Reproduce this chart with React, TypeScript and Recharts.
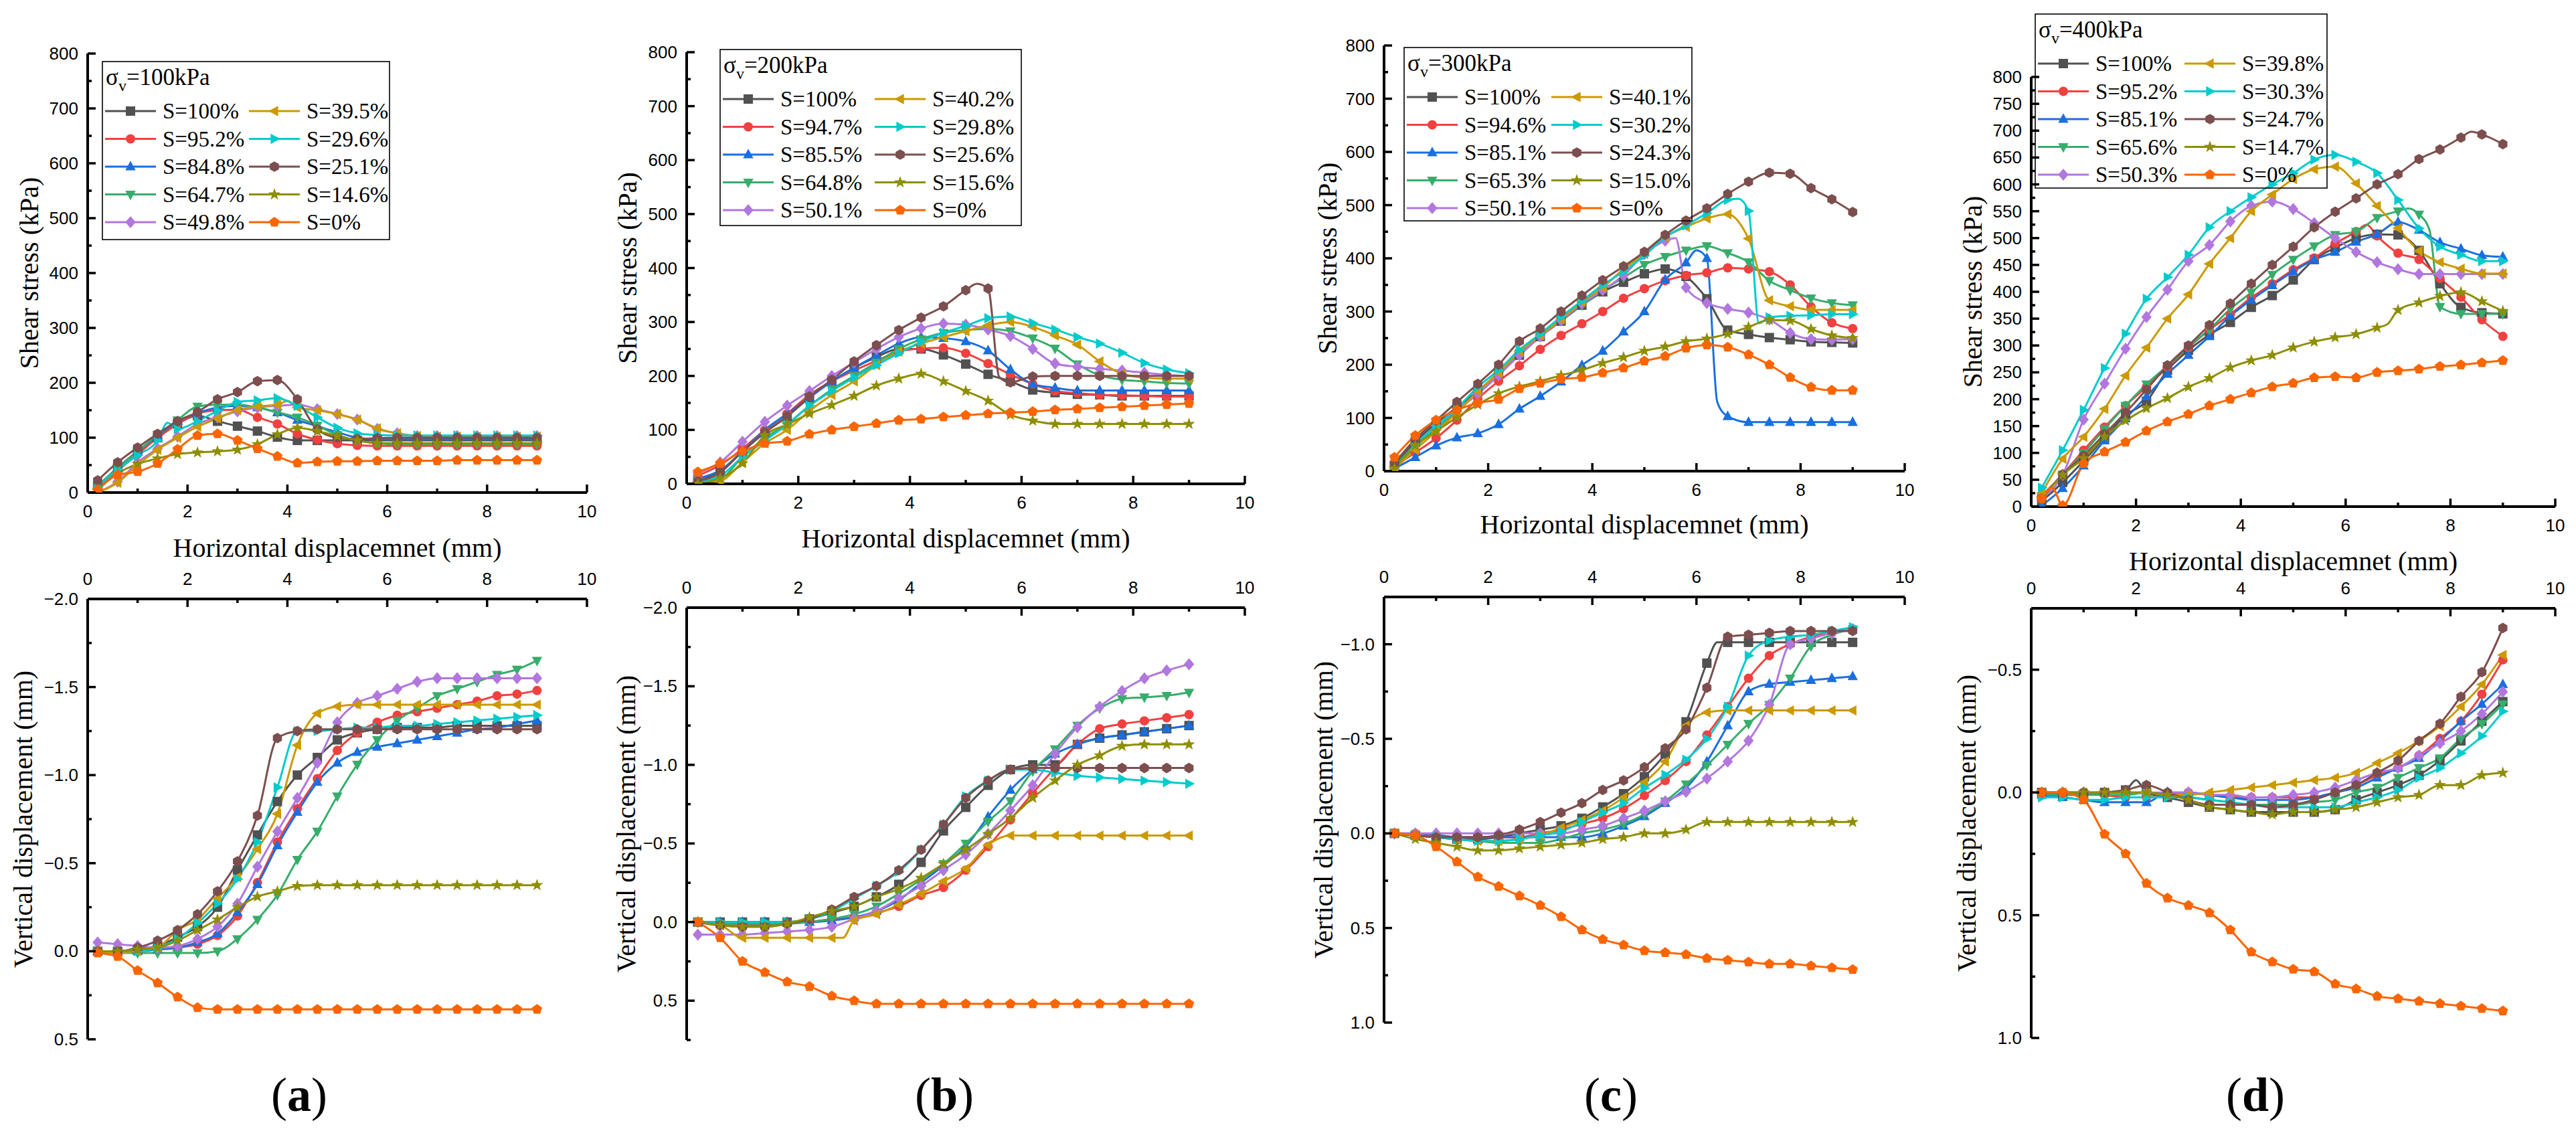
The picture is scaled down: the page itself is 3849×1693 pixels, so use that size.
import React from 'react';
import { LineChart, Line, XAxis, YAxis } from 'recharts';

const PAGE_W = 3849;
const PAGE_H = 1693;

// ---------- shared categories ----------
const X_POS = [0.2, 0.6, 1.0, 1.4, 1.8, 2.2, 2.6, 3.0, 3.4, 3.8, 4.2, 4.6, 5.0, 5.4, 5.8, 6.2, 6.6, 7.0, 7.4, 7.8, 8.2, 8.6, 9.0];
const X_TICKS = [0, 1, 2, 3, 4, 5, 6, 7, 8, 9, 10];
const X_MAJOR = [0, 2, 4, 6, 8, 10];

const SHEAR_TICKS = [0, 50, 100, 150, 200, 250, 300, 350, 400, 450, 500, 550, 600, 650, 700, 750, 800];
const SHEAR_MAJOR = [0, 100, 200, 300, 400, 500, 600, 700, 800];
const D_SHEAR_TICKS = [0, 25, 50, 75, 100, 125, 150, 175, 200, 225, 250, 275, 300, 325, 350, 375, 400, 425, 450, 475, 500, 525, 550, 575, 600, 625, 650, 675, 700, 725, 750, 775, 800];
const D_SHEAR_MAJOR = [0, 50, 100, 150, 200, 250, 300, 350, 400, 450, 500, 550, 600, 650, 700, 750, 800];

const A_VERT_TICKS = [-2, -1.75, -1.5, -1.25, -1, -0.75, -0.5, -0.25, 0, 0.25, 0.5];
const B_VERT_TICKS = [-2, -1.75, -1.5, -1.25, -1, -0.75, -0.5, -0.25, 0, 0.25, 0.5, 0.75];
const AB_VERT_MAJOR = [-2, -1.5, -1, -0.5, 0, 0.5];
const C_VERT_TICKS = [-1.25, -1, -0.75, -0.5, -0.25, 0, 0.25, 0.5, 0.75, 1];
const C_VERT_MAJOR = [-1, -0.5, 0, 0.5, 1];
const D_VERT_TICKS = [-0.75, -0.5, -0.25, 0, 0.25, 0.5, 0.75, 1];
const D_VERT_MAJOR = [-0.5, 0, 0.5, 1];

const COLORS = ['#515151', '#F14040', '#1A6FDF', '#37AD6B', '#B177DE', '#CC9900', '#00CBCC', '#7D4E4E', '#8E8E00', '#FB6501'];
const SHAPES = ['square', 'circle', 'triUp', 'triDown', 'diamond', 'triLeft', 'triRight', 'hexagon', 'star', 'pentagon'];

// ---------- legend labels ----------
const A_LABELS = ['S=100%', 'S=95.2%', 'S=84.8%', 'S=64.7%', 'S=49.8%', 'S=39.5%', 'S=29.6%', 'S=25.1%', 'S=14.6%', 'S=0%'];
const B_LABELS = ['S=100%', 'S=94.7%', 'S=85.5%', 'S=64.8%', 'S=50.1%', 'S=40.2%', 'S=29.8%', 'S=25.6%', 'S=15.6%', 'S=0%'];
const C_LABELS = ['S=100%', 'S=94.6%', 'S=85.1%', 'S=65.3%', 'S=50.1%', 'S=40.1%', 'S=30.2%', 'S=24.3%', 'S=15.0%', 'S=0%'];
const D_LABELS = ['S=100%', 'S=95.2%', 'S=85.1%', 'S=65.6%', 'S=50.3%', 'S=39.8%', 'S=30.3%', 'S=24.7%', 'S=14.7%', 'S=0%'];

// ---------- (a) sigma_v = 100 kPa ----------
const A_SHEAR = [
  [10, 45, 75, 100, 125, 140, 130, 121, 112, 101, 95, 95, 95, 95, 95, 95, 95, 95, 95, 95, 95, 95, 95],
  [8, 40, 70, 100, 125, 144, 150, 151, 137, 125, 107, 96, 89, 86, 85, 85, 85, 85, 85, 85, 85, 85, 85],
  [12, 45, 75, 103, 130, 145, 155, 158, 155, 146, 132, 121, 110, 100, 97, 97, 97, 97, 97, 97, 97, 97, 97],
  [12, 45, 75, 105, 132, 157, 160, 160, 155, 146, 137, 122, 105, 95, 90, 88, 88, 88, 88, 88, 88, 88, 88],
  [0, 20, 55, 80, 102, 125, 137, 148, 155, 158, 160, 152, 143, 133, 116, 108, 103, 103, 103, 103, 103, 103, 103],
  [0, 18, 50, 78, 100, 120, 135, 150, 157, 160, 155, 150, 143, 133, 117, 108, 103, 102, 102, 102, 102, 102, 102],
  [10, 42, 68, 95, 116, 130, 149, 165, 168, 172, 158, 137, 118, 108, 105, 104, 104, 104, 104, 104, 104, 104, 104],
  [22, 55, 82, 107, 130, 147, 170, 183, 203, 205, 170, 115, 100, 98, 99, 100, 100, 100, 100, 100, 100, 100, 100],
  [5, 35, 52, 62, 70, 73, 75, 78, 88, 106, 118, 112, 103, 95, 90, 90, 90, 90, 90, 90, 90, 90, 90],
  [5, 32, 38, 53, 79, 104, 107, 95, 80, 66, 54, 56, 57, 57, 58, 58, 58, 58, 59, 59, 59, 59, 59],
];
const A_SHEAR_EXTRA = [[5, 4.0, 167], [6, 1.6, 127]];

const A_VERT = [
  [0, 0, -0.01, -0.03, -0.08, -0.14, -0.25, -0.46, -0.66, -0.85, -1.0, -1.1, -1.2, -1.24, -1.26, -1.27, -1.27, -1.27, -1.28, -1.28, -1.28, -1.28, -1.28],
  [0, 0, 0, -0.01, -0.02, -0.04, -0.09, -0.2, -0.39, -0.62, -0.81, -0.98, -1.14, -1.24, -1.3, -1.34, -1.36, -1.38, -1.4, -1.42, -1.45, -1.46, -1.48],
  [0, 0, 0, -0.01, -0.02, -0.05, -0.1, -0.22, -0.38, -0.6, -0.79, -0.96, -1.07, -1.13, -1.16, -1.18, -1.2, -1.22, -1.24, -1.26, -1.27, -1.29, -1.31],
  [0, 0.01, 0.01, 0.01, 0.01, 0.01, 0, -0.07, -0.18, -0.32, -0.52, -0.68, -0.88, -1.06, -1.2, -1.31, -1.38, -1.45, -1.49, -1.53, -1.57, -1.6, -1.65],
  [-0.05, -0.04, -0.03, -0.02, -0.03, -0.07, -0.14, -0.27, -0.48, -0.68, -0.87, -1.07, -1.3, -1.41, -1.45, -1.49, -1.53, -1.55, -1.55, -1.55, -1.55, -1.55, -1.55],
  [0, 0.01, 0, -0.02, -0.12, -0.18, -0.3, -0.42, -0.58, -0.78, -1.17, -1.35, -1.39, -1.4, -1.4, -1.4, -1.4, -1.4, -1.4, -1.4, -1.4, -1.4, -1.4],
  [0, 0, 0, -0.02, -0.07, -0.16, -0.27, -0.41, -0.62, -0.93, -1.25, -1.25, -1.26, -1.27, -1.27, -1.28, -1.28, -1.29, -1.3, -1.31, -1.32, -1.33, -1.34],
  [0, 0, -0.02, -0.06, -0.12, -0.21, -0.34, -0.51, -0.77, -1.21, -1.25, -1.26, -1.26, -1.26, -1.26, -1.26, -1.26, -1.26, -1.26, -1.26, -1.26, -1.26, -1.26],
  [0, 0, -0.01, -0.02, -0.06, -0.12, -0.18, -0.25, -0.31, -0.34, -0.37, -0.375, -0.375, -0.375, -0.375, -0.375, -0.375, -0.375, -0.375, -0.375, -0.375, -0.375, -0.375],
  [0.01, 0.03, 0.11, 0.18, 0.26, 0.32, 0.33, 0.33, 0.33, 0.33, 0.33, 0.33, 0.33, 0.33, 0.33, 0.33, 0.33, 0.33, 0.33, 0.33, 0.33, 0.33, 0.33],
];
const A_VERT_EXTRA: number[][] = [];

// ---------- (b) sigma_v = 200 kPa ----------
const B_SHEAR = [
  [5, 24, 60, 95, 125, 160, 190, 215, 235, 250, 250, 239, 222, 203, 190, 174, 169, 166, 165, 163, 163, 163, 163],
  [15, 35, 65, 100, 130, 165, 190, 210, 228, 245, 251, 252, 242, 223, 203, 185, 172, 168, 165, 164, 163, 162, 162],
  [10, 25, 60, 100, 130, 160, 190, 215, 238, 260, 272, 270, 264, 247, 212, 185, 178, 173, 173, 173, 173, 173, 173],
  [5, 10, 50, 85, 110, 145, 175, 200, 225, 250, 268, 280, 285, 287, 283, 270, 251, 222, 201, 193, 190, 187, 186],
  [20, 40, 78, 115, 145, 172, 200, 225, 250, 272, 288, 297, 295, 286, 274, 250, 223, 217, 213, 210, 206, 202, 200],
  [0, 5, 40, 75, 100, 135, 165, 190, 220, 245, 260, 272, 283, 294, 300, 291, 275, 258, 227, 204, 197, 195, 195],
  [5, 15, 50, 80, 110, 145, 172, 197, 220, 242, 263, 280, 293, 307, 310, 298, 286, 272, 260, 243, 224, 212, 205],
  [5, 21, 60, 95, 125, 162, 193, 227, 257, 285, 308, 329, 359, 362, 188, 199, 200, 200, 200, 200, 200, 200, 200],
  [0, 10, 38, 90, 110, 130, 146, 163, 182, 195, 204, 190, 172, 154, 128, 117, 111, 111, 111, 111, 111, 111, 111],
  [22, 38, 60, 75, 79, 92, 100, 106, 112, 118, 120, 124, 127, 130, 132, 134, 137, 139, 141, 143, 145, 147, 149],
];
const B_SHEAR_EXTRA = [[7, 5.2, 371], [7, 5.6, 198]];

const B_VERT = [
  [0, 0, 0, 0, 0, -0.02, -0.06, -0.1, -0.16, -0.24, -0.38, -0.58, -0.73, -0.87, -0.97, -1.0, -1.0, -1.13, -1.17, -1.19, -1.21, -1.23, -1.25],
  [0, 0.02, 0.02, 0.02, 0.01, 0, -0.02, -0.03, -0.06, -0.1, -0.17, -0.22, -0.33, -0.48, -0.65, -0.82, -0.98, -1.13, -1.23, -1.26, -1.28, -1.3, -1.32],
  [0, 0, 0, 0, 0, 0, -0.01, -0.03, -0.07, -0.14, -0.25, -0.36, -0.48, -0.67, -0.84, -0.97, -1.07, -1.13, -1.17, -1.19, -1.21, -1.23, -1.25],
  [0, 0.01, 0.01, 0.01, 0.01, 0, -0.02, -0.05, -0.1, -0.18, -0.27, -0.37, -0.5, -0.64, -0.77, -0.96, -1.1, -1.25, -1.36, -1.42, -1.43, -1.44, -1.46],
  [0.08, 0.08, 0.08, 0.07, 0.06, 0.05, 0.03, -0.02, -0.07, -0.15, -0.23, -0.33, -0.43, -0.56, -0.71, -0.87, -1.07, -1.24, -1.37, -1.47, -1.55, -1.6, -1.64],
  [0, 0.02, 0.1, 0.1, 0.1, 0.1, 0.1, -0.01, -0.05, -0.11, -0.18, -0.26, -0.34, -0.49, -0.55, -0.55, -0.55, -0.55, -0.55, -0.55, -0.55, -0.55, -0.55],
  [0, 0, 0, 0, 0, -0.02, -0.07, -0.15, -0.23, -0.32, -0.46, -0.62, -0.8, -0.9, -0.97, -0.97, -0.95, -0.93, -0.92, -0.91, -0.9, -0.89, -0.88],
  [0, 0.02, 0.03, 0.03, 0.01, -0.02, -0.08, -0.16, -0.23, -0.33, -0.46, -0.62, -0.79, -0.9, -0.97, -0.98, -0.98, -0.98, -0.98, -0.98, -0.98, -0.98, -0.98],
  [0, 0.02, 0.03, 0.03, 0.01, -0.03, -0.07, -0.1, -0.16, -0.21, -0.28, -0.37, -0.46, -0.56, -0.66, -0.79, -0.9, -1.0, -1.06, -1.12, -1.13, -1.13, -1.13],
  [0, 0.1, 0.25, 0.32, 0.38, 0.41, 0.47, 0.5, 0.52, 0.52, 0.52, 0.52, 0.52, 0.52, 0.52, 0.52, 0.52, 0.52, 0.52, 0.52, 0.52, 0.52, 0.52],
];
const B_VERT_EXTRA = [[5, 2.8, 0.1]];

// ---------- (c) sigma_v = 300 kPa ----------
const C_SHEAR = [
  [10, 55, 90, 120, 150, 185, 218, 253, 282, 312, 337, 355, 371, 380, 366, 324, 265, 257, 251, 247, 243, 242, 241],
  [10, 35, 62, 96, 136, 169, 198, 229, 255, 277, 300, 325, 343, 358, 368, 373, 382, 380, 375, 350, 309, 279, 268],
  [5, 26, 48, 63, 71, 88, 117, 141, 168, 199, 226, 262, 300, 360, 392, 400, 103, 92, 92, 92, 92, 92, 92],
  [2, 45, 80, 112, 150, 183, 222, 255, 285, 312, 340, 364, 388, 403, 415, 423, 410, 393, 358, 340, 325, 316, 312],
  [5, 50, 85, 115, 145, 180, 218, 253, 283, 315, 340, 368, 408, 433, 345, 316, 305, 298, 285, 260, 248, 247, 248],
  [5, 40, 75, 110, 150, 185, 225, 255, 285, 318, 345, 380, 408, 440, 459, 475, 483, 437, 321, 310, 303, 303, 303],
  [8, 50, 85, 118, 158, 190, 228, 258, 290, 320, 350, 375, 405, 440, 462, 485, 510, 489, 289, 292, 293, 295, 295],
  [15, 60, 95, 130, 164, 200, 244, 268, 300, 330, 359, 385, 412, 444, 471, 494, 521, 544, 561, 559, 532, 511, 487],
  [5, 48, 75, 101, 125, 146, 159, 169, 180, 190, 203, 214, 226, 234, 244, 249, 258, 271, 284, 283, 267, 255, 250],
  [26, 67, 96, 115, 128, 135, 155, 165, 173, 176, 185, 194, 207, 216, 231, 237, 233, 219, 200, 176, 158, 152, 152],
];
const C_SHEAR_EXTRA = [[2, 6.0, 415], [2, 6.4, 130], [4, 5.6, 438], [6, 6.8, 512], [6, 7.2, 278]];

const C_VERT = [
  [0, 0.01, 0.02, 0.03, 0.03, 0.02, 0, -0.02, -0.04, -0.08, -0.14, -0.21, -0.3, -0.42, -0.59, -0.9, -1.01, -1.01, -1.01, -1.01, -1.01, -1.01, -1.01],
  [0, 0, 0.01, 0.02, 0.02, 0.02, 0.02, 0, -0.02, -0.05, -0.08, -0.13, -0.2, -0.28, -0.38, -0.52, -0.67, -0.82, -0.94, -1.0, -1.04, -1.06, -1.08],
  [0, 0.01, 0.01, 0.02, 0.02, 0.02, 0.02, 0.02, 0.02, 0.02, 0, -0.04, -0.09, -0.16, -0.24, -0.38, -0.57, -0.75, -0.79, -0.8, -0.81, -0.82, -0.83],
  [0, 0.01, 0.02, 0.03, 0.04, 0.05, 0.05, 0.05, 0.03, 0, -0.02, -0.05, -0.1, -0.17, -0.26, -0.36, -0.47, -0.58, -0.68, -0.82, -0.99, -1.05, -1.08],
  [0, 0, 0, 0, 0, 0, 0, 0, 0, -0.02, -0.04, -0.08, -0.12, -0.17, -0.22, -0.29, -0.38, -0.49, -0.68, -1.0, -1.03, -1.06, -1.08],
  [0, 0.01, 0.02, 0.03, 0.04, 0.04, 0.03, 0.01, -0.03, -0.07, -0.12, -0.19, -0.27, -0.38, -0.57, -0.64, -0.65, -0.65, -0.65, -0.65, -0.65, -0.65, -0.65],
  [0, 0.01, 0.02, 0.03, 0.04, 0.04, 0.03, 0.01, -0.01, -0.06, -0.11, -0.16, -0.24, -0.31, -0.39, -0.5, -0.67, -0.94, -1.02, -1.04, -1.05, -1.07, -1.09],
  [0, 0.01, 0.02, 0.02, 0.02, 0.01, -0.02, -0.06, -0.11, -0.16, -0.23, -0.28, -0.35, -0.45, -0.55, -0.77, -1.04, -1.05, -1.06, -1.07, -1.07, -1.07, -1.07],
  [0, 0.03, 0.05, 0.07, 0.09, 0.09, 0.08, 0.07, 0.06, 0.05, 0.03, 0.02, 0, 0, -0.02, -0.06, -0.06, -0.06, -0.06, -0.06, -0.06, -0.06, -0.06],
  [0, 0.01, 0.07, 0.15, 0.23, 0.28, 0.33, 0.38, 0.44, 0.51, 0.56, 0.59, 0.62, 0.63, 0.64, 0.66, 0.67, 0.68, 0.69, 0.69, 0.7, 0.71, 0.72],
];
const C_VERT_EXTRA = [[0, 6.4, -1.01]];

// ---------- (d) sigma_v = 400 kPa ----------
const D_SHEAR = [
  [10, 45, 85, 128, 170, 196, 254, 291, 320, 343, 371, 393, 422, 460, 482, 500, 507, 506, 477, 415, 371, 361, 359],
  [20, 60, 105, 148, 188, 223, 259, 296, 329, 358, 389, 415, 441, 463, 490, 512, 504, 472, 460, 425, 390, 348, 317],
  [2, 34, 76, 123, 164, 205, 247, 282, 317, 355, 385, 412, 438, 460, 474, 493, 507, 530, 515, 492, 480, 468, 465],
  [15, 60, 100, 145, 188, 228, 262, 298, 330, 368, 399, 432, 460, 485, 506, 512, 538, 550, 544, 372, 359, 359, 359],
  [15, 59, 162, 229, 294, 353, 404, 457, 487, 531, 560, 568, 554, 528, 500, 474, 455, 442, 433, 433, 433, 433, 433],
  [25, 89, 130, 182, 244, 296, 350, 395, 452, 500, 550, 581, 610, 628, 633, 602, 560, 518, 476, 455, 443, 434, 434],
  [35, 105, 180, 258, 322, 387, 427, 469, 520, 550, 576, 600, 621, 646, 655, 642, 621, 571, 518, 484, 469, 457, 457],
  [15, 60, 95, 135, 175, 218, 263, 300, 338, 378, 415, 450, 484, 520, 549, 574, 600, 619, 647, 665, 687, 693, 675],
  [15, 59, 90, 130, 160, 183, 202, 223, 239, 259, 272, 282, 296, 307, 315, 321, 333, 366, 380, 392, 399, 382, 364],
  [15, 2, 80, 102, 120, 141, 158, 172, 188, 200, 212, 223, 230, 240, 242, 240, 250, 253, 256, 261, 264, 268, 272],
];
const D_SHEAR_EXTRA = [[1, 6.4, 525], [3, 7.2, 555], [3, 7.6, 515], [7, 8.4, 698], [8, 6.8, 340], [9, 0.4, 35]];

const D_VERT = [
  [0, 0.01, 0.01, 0, -0.01, 0, 0.02, 0.04, 0.06, 0.07, 0.08, 0.08, 0.08, 0.08, 0.07, 0.03, 0, -0.03, -0.07, -0.13, -0.21, -0.29, -0.37],
  [0, 0, 0, 0.01, 0.02, 0.02, 0.01, 0, 0.01, 0.02, 0.02, 0.02, 0.02, 0.02, 0, -0.03, -0.07, -0.1, -0.15, -0.22, -0.29, -0.4, -0.54],
  [0.01, 0.02, 0.03, 0.04, 0.04, 0.04, 0, 0, 0.01, 0.02, 0.03, 0.03, 0.03, 0.02, 0, -0.02, -0.06, -0.1, -0.14, -0.21, -0.29, -0.36, -0.44],
  [0.01, 0.01, 0.01, 0.01, 0.01, 0, 0.01, 0.02, 0.03, 0.04, 0.05, 0.05, 0.05, 0.04, 0.03, 0, -0.02, -0.06, -0.1, -0.14, -0.22, -0.28, -0.36],
  [0, 0, 0, 0, 0, 0, 0, 0, 0.01, 0.01, 0.02, 0.02, 0.01, 0, -0.02, -0.05, -0.08, -0.1, -0.15, -0.2, -0.25, -0.32, -0.41],
  [0, 0, 0, 0, 0, 0, 0.01, 0.01, 0, -0.01, -0.02, -0.03, -0.04, -0.05, -0.06, -0.08, -0.12, -0.16, -0.21, -0.27, -0.35, -0.44, -0.56],
  [0.02, 0.02, 0.03, 0.03, 0.02, 0.02, 0.02, 0.02, 0.03, 0.04, 0.05, 0.06, 0.06, 0.06, 0.06, 0.04, 0.02, -0.01, -0.06, -0.1, -0.16, -0.23, -0.33],
  [0, 0, 0, 0, -0.01, -0.03, 0, 0.03, 0.05, 0.05, 0.05, 0.06, 0.05, 0.03, 0, -0.03, -0.08, -0.13, -0.21, -0.28, -0.39, -0.49, -0.67],
  [0, 0, 0, 0, 0, 0, 0.01, 0.03, 0.06, 0.07, 0.08, 0.09, 0.08, 0.08, 0.07, 0.06, 0.04, 0.02, 0.01, -0.03, -0.03, -0.07, -0.08],
  [0, 0, 0.03, 0.17, 0.25, 0.37, 0.43, 0.46, 0.49, 0.56, 0.65, 0.69, 0.72, 0.73, 0.78, 0.8, 0.83, 0.84, 0.85, 0.86, 0.87, 0.88, 0.89],
];
const D_VERT_EXTRA = [[0, 2.0, -0.05]];

// ---------- helpers ----------
const SANS = "'Liberation Sans', Arial, sans-serif";
const SERIF = "'Liberation Serif', 'Times New Roman', serif";

type Pt = { x: number; y: number; m: number };

function buildSeries(values: number[][], extras: number[][]): Pt[][] {
  return values.map((vals, si) => {
    const pts: Pt[] = X_POS.map((x, i) => ({ x, y: vals[i], m: 1 }));
    extras.filter((e) => e[0] === si).forEach((e) => pts.push({ x: e[1], y: e[2], m: 0 }));
    pts.sort((a, b) => a.x - b.x);
    return pts;
  });
}

const isIn = (v: number, list: number[]) => list.some((m) => Math.abs(m - v) < 1e-6);

function polyPoints(cx: number, cy: number, rel: number[][], s: number) {
  return rel.map((p) => `${cx + p[0] * s},${cy + p[1] * s}`).join(' ');
}
function regular(n: number, r: number) {
  const out: number[][] = [];
  for (let k = 0; k < n; k++) {
    const a = -Math.PI / 2 + (2 * Math.PI * k) / n;
    out.push([Math.cos(a) * r, Math.sin(a) * r]);
  }
  return out;
}
function starRel() {
  const out: number[][] = [];
  for (let k = 0; k < 10; k++) {
    const a = -Math.PI / 2 + (Math.PI * k) / 5;
    const r = k % 2 === 0 ? 1.35 : 0.55;
    out.push([Math.cos(a) * r, Math.sin(a) * r]);
  }
  return out;
}
const REL: Record<string, number[][]> = {
  triUp: [[0, -1.25], [1.1, 0.8], [-1.1, 0.8]],
  triDown: [[0, 1.25], [1.1, -0.8], [-1.1, -0.8]],
  triLeft: [[-1.25, 0], [0.8, -1.1], [0.8, 1.1]],
  triRight: [[1.25, 0], [-0.8, -1.1], [-0.8, 1.1]],
  diamond: [[0, -1.3], [1.1, 0], [0, 1.3], [-1.1, 0]],
  hexagon: regular(6, 1.12),
  pentagon: regular(5, 1.15),
  star: starRel(),
};

function Marker({ shape, x, y, color, s = 7 }: { shape: string; x: number; y: number; color: string; s?: number }) {
  if (shape === 'square') return <rect x={x - s} y={y - s} width={2 * s} height={2 * s} fill={color} />;
  if (shape === 'circle') return <circle cx={x} cy={y} r={s} fill={color} />;
  return <polygon points={polyPoints(x, y, REL[shape], s)} fill={color} />;
}

const makeDot = (shape: string, color: string) => (props: any) => {
  const { cx, cy, payload, index } = props;
  if (!payload || !payload.m || cx == null || cy == null || isNaN(cx) || isNaN(cy)) return <g key={`n${index}`} />;
  return (
    <g key={`d${index}`}>
      <Marker shape={shape} x={cx} y={cy} color={color} />
    </g>
  );
};

const fmtVert = (v: number) => {
  const s = Math.abs(v).toFixed(1);
  return v < -1e-9 ? `\u2212${s}` : s;
};

// ---------- panel geometry ----------
const YW = 150;
const MT = 20;
const MR = 30;
const XH = 60;

type PanelCfg = {
  key: string;
  L: number;
  R: number;
  tT: number;
  tB: number;
  bT: number;
  bB: number;
  shear: Pt[][];
  vert: Pt[][];
  shearTicks: number[];
  shearMajor: number[];
  vertTicks: number[];
  vertMajor: number[];
  vertDomain: [number, number];
  labels: string[];
  sigma: string;
  legend: { x: number; y: number; w: number; h: number; c2: number };
  yTitleTop: number;
  yTitleBot: number;
  xTitleY: number;
  letterX: number;
};

const PANELS: PanelCfg[] = [
  {
    key: 'a', L: 131, R: 877, tT: 80, tB: 736, bT: 895, bB: 1553,
    shear: buildSeries(A_SHEAR, A_SHEAR_EXTRA), vert: buildSeries(A_VERT, A_VERT_EXTRA),
    shearTicks: SHEAR_TICKS, shearMajor: SHEAR_MAJOR, vertTicks: A_VERT_TICKS, vertMajor: AB_VERT_MAJOR,
    vertDomain: [-2, 0.5], labels: A_LABELS, sigma: '=100kPa',
    legend: { x: 153, y: 92, w: 429, h: 266, c2: 219 },
    yTitleTop: 43, yTitleBot: 34, xTitleY: 818, letterX: 447,
  },
  {
    key: 'b', L: 1026, R: 1860, tT: 78, tB: 723, bT: 908, bB: 1554,
    shear: buildSeries(B_SHEAR, B_SHEAR_EXTRA), vert: buildSeries(B_VERT, B_VERT_EXTRA),
    shearTicks: SHEAR_TICKS, shearMajor: SHEAR_MAJOR, vertTicks: B_VERT_TICKS, vertMajor: AB_VERT_MAJOR,
    vertDomain: [-2, 0.75], labels: B_LABELS, sigma: '=200kPa',
    legend: { x: 1076, y: 74, w: 450, h: 263, c2: 231 },
    yTitleTop: 937, yTitleBot: 935, xTitleY: 804, letterX: 1411,
  },
  {
    key: 'c', L: 2068, R: 2846, tT: 68, tB: 704, bT: 892, bB: 1528,
    shear: buildSeries(C_SHEAR, C_SHEAR_EXTRA), vert: buildSeries(C_VERT, C_VERT_EXTRA),
    shearTicks: SHEAR_TICKS, shearMajor: SHEAR_MAJOR, vertTicks: C_VERT_TICKS, vertMajor: C_VERT_MAJOR,
    vertDomain: [-1.25, 1], labels: C_LABELS, sigma: '=300kPa',
    legend: { x: 2098, y: 71, w: 430, h: 259, c2: 220 },
    yTitleTop: 1983, yTitleBot: 1977, xTitleY: 783, letterX: 2407,
  },
  {
    key: 'd', L: 3035, R: 3818, tT: 115, tB: 757, bT: 909, bB: 1551,
    shear: buildSeries(D_SHEAR, D_SHEAR_EXTRA), vert: buildSeries(D_VERT, D_VERT_EXTRA),
    shearTicks: D_SHEAR_TICKS, shearMajor: D_SHEAR_MAJOR, vertTicks: D_VERT_TICKS, vertMajor: D_VERT_MAJOR,
    vertDomain: [-0.75, 1], labels: D_LABELS, sigma: '=400kPa',
    legend: { x: 3041, y: 21, w: 436, h: 260, c2: 223 },
    yTitleTop: 2947, yTitleBot: 2938, xTitleY: 838, letterX: 3370,
  },
];

// ---------- tick renderers ----------
const xTickRenderer = (axisY: number, atTop: boolean) => (props: any) => {
  const { x, payload, index } = props;
  const v = payload.value;
  const major = isIn(v, X_MAJOR);
  const len = major ? 12 : 6;
  const dir = atTop ? 1 : -1;
  return (
    <g key={`xt${index}`}>
      <line x1={x} x2={x} y1={axisY} y2={axisY + dir * len} stroke="#000" strokeWidth={3.5} />
      {major && (
        <text x={x} y={atTop ? axisY - 30 : axisY + 28} textAnchor="middle" dominantBaseline="central" fontFamily={SANS} fontSize={26} fill="#000">
          {String(v)}
        </text>
      )}
    </g>
  );
};

const yTickRenderer = (axisX: number, majors: number[], fmt: (v: number) => string) => (props: any) => {
  const { y, payload, index } = props;
  const v = payload.value;
  const major = isIn(v, majors);
  const len = major ? 12 : 6;
  return (
    <g key={`yt${index}`}>
      <line x1={axisX} x2={axisX + len} y1={y} y2={y} stroke="#000" strokeWidth={3.5} />
      {major && (
        <text x={axisX - 14} y={y} textAnchor="end" dominantBaseline="central" fontFamily={SANS} fontSize={26} fill="#000">
          {fmt(v)}
        </text>
      )}
    </g>
  );
};

function SeriesLines(series: Pt[][], prefix: string) {
  return series.map((pts, i) => (
    <Line
      key={`${prefix}${i}`}
      data={pts}
      dataKey="y"
      type="monotone"
      stroke={COLORS[i]}
      strokeWidth={3}
      dot={makeDot(SHAPES[i], COLORS[i])}
      activeDot={false}
      isAnimationActive={false}
      connectNulls
    />
  ));
}

function TopChart({ p }: { p: PanelCfg }) {
  const plotW = p.R - p.L;
  const plotH = p.tB - p.tT;
  const w = YW + plotW + MR;
  const h = MT + plotH + XH;
  return (
    <div style={{ position: 'absolute', left: p.L - YW, top: p.tT - MT, width: w, height: h }}>
      <LineChart width={w} height={h} margin={{ top: MT, right: MR, left: 0, bottom: 0 }}>
        <XAxis
          dataKey="x"
          type="number"
          domain={[0, 10]}
          ticks={X_TICKS}
          interval={0}
          height={XH}
          axisLine={{ stroke: '#000', strokeWidth: 4 }}
          tickLine={false}
          tick={xTickRenderer(MT + plotH, false)}
          allowDataOverflow
        />
        <YAxis
          type="number"
          domain={[0, 800]}
          ticks={p.shearTicks}
          interval={0}
          width={YW}
          axisLine={{ stroke: '#000', strokeWidth: 4 }}
          tickLine={false}
          tick={yTickRenderer(YW, p.shearMajor, (v) => String(v))}
          allowDataOverflow
        />
        {SeriesLines(p.shear, `s${p.key}`)}
      </LineChart>
    </div>
  );
}

function BottomChart({ p }: { p: PanelCfg }) {
  const plotW = p.R - p.L;
  const plotH = p.bB - p.bT;
  const MB = 20;
  const w = YW + plotW + MR;
  const h = XH + plotH + MB;
  return (
    <div style={{ position: 'absolute', left: p.L - YW, top: p.bT - XH, width: w, height: h }}>
      <LineChart width={w} height={h} margin={{ top: 0, right: MR, left: 0, bottom: MB }}>
        <XAxis
          dataKey="x"
          type="number"
          orientation="top"
          domain={[0, 10]}
          ticks={X_TICKS}
          interval={0}
          height={XH}
          axisLine={{ stroke: '#000', strokeWidth: 4 }}
          tickLine={false}
          tick={xTickRenderer(XH, true)}
          allowDataOverflow
        />
        <YAxis
          type="number"
          reversed
          domain={p.vertDomain}
          ticks={p.vertTicks}
          interval={0}
          width={YW}
          axisLine={{ stroke: '#000', strokeWidth: 4 }}
          tickLine={false}
          tick={yTickRenderer(YW, p.vertMajor, fmtVert)}
          allowDataOverflow
        />
        {SeriesLines(p.vert, `v${p.key}`)}
      </LineChart>
    </div>
  );
}

function LegendBox({ p }: { p: PanelCfg }) {
  const { x, y, w, h, c2 } = p.legend;
  const rows = [0, 1, 2, 3, 4];
  return (
    <g>
      <rect x={x} y={y} width={w} height={h} fill="none" stroke="#000" strokeWidth={1.6} />
      <text x={x + 5} y={y + 35} fontFamily={SERIF} fontSize={35} fill="#000">
        σ<tspan fontSize={24} dy={9}>v</tspan>
        <tspan dy={-9}>{p.sigma}</tspan>
      </text>
      {rows.map((r) => {
        const cy = y + 74 + r * 41.5;
        const cols = [
          { i: r, lx: x + 4 },
          { i: r + 5, lx: x + c2 },
        ];
        return (
          <g key={r}>
            {cols.map((c) => (
              <g key={c.i}>
                <line x1={c.lx} x2={c.lx + 76} y1={cy} y2={cy} stroke={COLORS[c.i]} strokeWidth={3} />
                <Marker shape={SHAPES[c.i]} x={c.lx + 38} y={cy} color={COLORS[c.i]} />
                <text x={c.lx + 86} y={cy + 11} fontFamily={SERIF} fontSize={33} fill="#000">
                  {p.labels[c.i]}
                </text>
              </g>
            ))}
          </g>
        );
      })}
    </g>
  );
}

function Overlay() {
  return (
    <svg width={PAGE_W} height={PAGE_H} style={{ position: 'absolute', left: 0, top: 0, pointerEvents: 'none' }}>
      {PANELS.map((p) => {
        const cxPlot = (p.L + p.R) / 2;
        const cyTop = (p.tT + p.tB) / 2;
        const cyBot = (p.bT + p.bB) / 2;
        return (
          <g key={p.key}>
            <LegendBox p={p} />
            <text
              transform={`translate(${p.yTitleTop},${cyTop}) rotate(-90)`}
              textAnchor="middle"
              dominantBaseline="central"
              fontFamily={SERIF}
              fontSize={40}
              fill="#000"
            >
              Shear stress (kPa)
            </text>
            <text
              transform={`translate(${p.yTitleBot},${cyBot}) rotate(-90)`}
              textAnchor="middle"
              dominantBaseline="central"
              fontFamily={SERIF}
              fontSize={40}
              fill="#000"
            >
              Vertical displacement (mm)
            </text>
            <text x={cxPlot} y={p.xTitleY} textAnchor="middle" dominantBaseline="central" fontFamily={SERIF} fontSize={40} fill="#000">
              Horizontal displacemnet (mm)
            </text>
            <text x={p.letterX} y={1636} textAnchor="middle" dominantBaseline="central" fontFamily={SERIF} fontSize={72} fill="#000">
              (<tspan fontWeight="bold">{p.key}</tspan>)
            </text>
          </g>
        );
      })}
    </svg>
  );
}

export default function App() {
  return (
    <div style={{ position: 'absolute', left: 0, top: 0, width: PAGE_W, height: PAGE_H, background: '#fff', overflow: 'hidden' }}>
      <style>{'body{margin:0;overflow:hidden;}'}</style>
      {PANELS.map((p) => (
        <TopChart key={`t${p.key}`} p={p} />
      ))}
      {PANELS.map((p) => (
        <BottomChart key={`b${p.key}`} p={p} />
      ))}
      <Overlay />
    </div>
  );
}
